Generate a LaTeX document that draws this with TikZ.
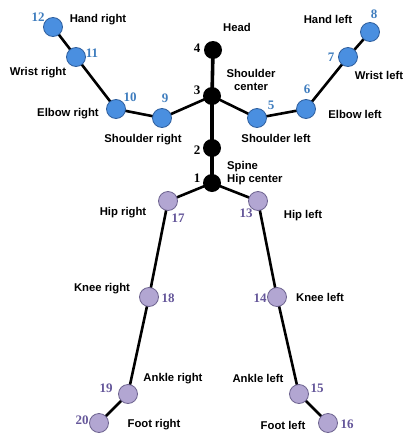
\documentclass[tikz,border=0pt]{standalone}
\usepackage{fontspec}
\usetikzlibrary{backgrounds}
\setmainfont{Liberation Sans}
\newfontfamily\numfont{Liberation Serif}
\definecolor{jblue}{HTML}{4A8FE0}
\definecolor{jblueE}{HTML}{2F5F9E}
\definecolor{jpurp}{HTML}{B2A6D2}
\definecolor{jpurpE}{HTML}{6E6490}
\definecolor{nblue}{HTML}{3F7DBE}
\definecolor{npurp}{HTML}{65579A}
\begin{document}
\begin{tikzpicture}[x=1pt,y=-1pt,
  bj/.style={circle,fill=jblue,draw=jblueE,line width=0.8pt,minimum size=19pt,inner sep=0pt},
  kj/.style={circle,fill=black,minimum size=18pt,inner sep=0pt},
  pj/.style={circle,fill=jpurp,draw=jpurpE,line width=0.8pt,minimum size=19pt,inner sep=0pt},
  lbl/.style={font=\fontsize{11.3}{12.5}\selectfont\bfseries,inner sep=0pt,align=center},
  nb/.style={font=\fontsize{13}{13}\selectfont\numfont\bfseries,text=nblue,inner sep=0pt},
  np/.style={font=\fontsize{13}{13}\selectfont\numfont\bfseries,text=npurp,inner sep=0pt},
  nk/.style={font=\fontsize{13}{13}\selectfont\numfont\bfseries,text=black,inner sep=0pt},
  bone/.style={line width=2.6pt,black},
  spine/.style={line width=3.6pt,black}]
\useasboundingbox (0,0) rectangle (404,434);
% joints
\node[kj] (j4) at (213,50) {};
\node[kj] (j3) at (212,96) {};
\node[kj] (j2) at (212,148) {};
\node[kj] (j1) at (212,183) {};
\node[bj] (j5) at (257,118) {};
\node[bj] (j6) at (306,109) {};
\node[bj] (j7) at (348,57) {};
\node[bj] (j8) at (370,32) {};
\node[bj] (j9) at (162,118) {};
\node[bj] (j10) at (116,109) {};
\node[bj] (j11) at (76,57) {};
\node[bj] (j12) at (53,27) {};
\node[pj] (j13) at (258,201) {};
\node[pj] (j14) at (277,297) {};
\node[pj] (j15) at (299,394) {};
\node[pj] (j16) at (328,423) {};
\node[pj] (j17) at (168,201) {};
\node[pj] (j18) at (149,297) {};
\node[pj] (j19) at (128,394) {};
\node[pj] (j20) at (99,423) {};
% bones
\begin{scope}[on background layer]
\draw[spine] (j4.center) -- (j3.center) -- (j2.center) -- (j1.center);
\draw[bone] (j3.center) -- (j5.center) -- (j6.center) -- (j7.center) -- (j8.center);
\draw[bone] (j3.center) -- (j9.center) -- (j10.center) -- (j11.center) -- (j12.center);
\draw[bone] (j1.center) -- (j13.center) -- (j14.center) -- (j15.center) -- (j16.center);
\draw[bone] (j1.center) -- (j17.center) -- (j18.center) -- (j19.center) -- (j20.center);
\end{scope}
% numbers
\node[nk] (n4) at (197,48) {4};
\node[nk] (n3) at (197,90) {3};
\node[nk] (n2) at (197,150) {2};
\node[nk] (n1) at (197,178) {1};
\node[nb] (n5) at (271,105) {5};
\node[nb] (n6) at (307,89) {6};
\node[nb] (n7) at (331,57) {7};
\node[nb] (n8) at (374,14) {8};
\node[nb] (n9) at (165,98) {9};
\node[nb] (n10) at (130,97) {10};
\node[nb] (n11) at (92,53) {11};
\node[nb] (n12) at (38,17) {12};
\node[np] (n13) at (246,213) {13};
\node[np] (n14) at (260,298) {14};
\node[np] (n15) at (317,388) {15};
\node[np] (n16) at (347,424) {16};
\node[np] (n17) at (178,218) {17};
\node[np] (n18) at (168,298) {18};
\node[np] (n19) at (106,388) {19};
\node[np] (n20) at (82,420) {20};
% labels
\node[lbl] (l4) at (237,27) {Head};
\node[lbl] (l3) at (251,80) {Shoulder\\center};
\node[lbl,anchor=west] (l2) at (227,167) {Spine};
\node[lbl,anchor=west] (l1) at (227,180) {Hip center};
\node[lbl] (l5) at (276,138) {Shoulder left};
\node[lbl] (l6) at (355,114) {Elbow left};
\node[lbl] (l7) at (379,75) {Wrist left};
\node[lbl] (l8) at (328,19) {Hand left};
\node[lbl] (l9) at (143,140) {Shoulder right};
\node[lbl] (l10) at (68,114) {Elbow right};
\node[lbl] (l11) at (38,73) {Wrist right};
\node[lbl] (l12) at (98,20) {Hand right};
\node[lbl] (l13) at (303,216) {Hip left};
\node[lbl] (l14) at (320,297) {Knee left};
\node[lbl] (l15) at (258,378) {Ankle left};
\node[lbl] (l16) at (283,425) {Foot left};
\node[lbl] (l17) at (123,213) {Hip right};
\node[lbl] (l18) at (102,289) {Knee right};
\node[lbl] (l19) at (173,379) {Ankle right};
\node[lbl] (l20) at (154,425) {Foot right};
\end{tikzpicture}
\end{document}
